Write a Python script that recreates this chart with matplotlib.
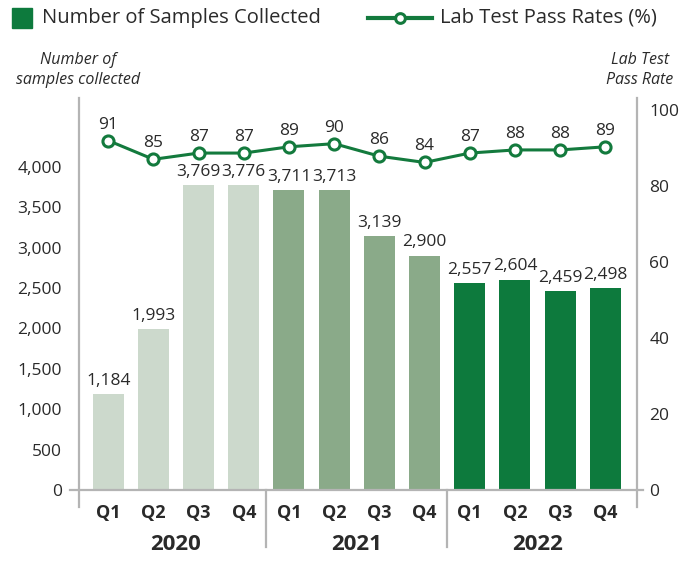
import matplotlib
matplotlib.use('Agg')
import matplotlib.pyplot as plt
import numpy as np
from matplotlib.patches import Rectangle
from matplotlib.lines import Line2D

# data
years = ['2020', '2021', '2022']
quarters = ['Q1', 'Q2', 'Q3', 'Q4']
samples = [1184, 1993, 3769, 3776, 3711, 3713, 3139, 2900, 2557, 2604, 2459, 2498]
pass_rates = [91, 85, 87, 87, 89, 90, 86, 84, 87, 88, 88, 89]
left_ticks = [0, 500, 1000, 1500, 2000, 2500, 3000, 3500, 4000]
right_ticks = [0, 20, 40, 60, 80, 100]

year_colors = ['#ccd9cc', '#8aaa89', '#0d7a3d']
line_color = '#137a3d'
grey = '#b4b4b4'
text_color = '#2a2a2a'

plt.rcParams['font.family'] = ['Open Sans', 'DejaVu Sans']
plt.rcParams['text.color'] = text_color

W, H = 697, 561
fig = plt.figure(figsize=(W / 100, H / 100), dpi=100)

# axes box in pixels: left 78.6, right 637, top 98, bottom 490
ax = fig.add_axes([78.6 / W, (H - 490) / H, (637 - 78.6) / W, (490 - 98) / H])
ax2 = ax.twinx()   # visible right scale
ax3 = ax.twinx()   # line layer

x = np.arange(len(samples))
colors = [year_colors[i // 4] for i in range(len(samples))]

ax.bar(x, samples, width=0.686, color=colors, zorder=2)
ax.set_xlim(-0.655, 11.70)
ax.set_ylim(0, 4850)
ax.set_yticks(left_ticks)
ax.set_yticklabels([f'{t:,}' for t in left_ticks], fontsize=12.5, color=text_color)
ax.tick_params(axis='y', length=0, pad=12)
ax.set_xticks([])

for xi, v in zip(x, samples):
    ax.annotate(f'{v:,}', (xi, v), xytext=(0, 9.5), textcoords='offset points',
                ha='center', va='center', fontsize=12.5, color=text_color)

ax2.set_ylim(0, 103.2)
ax2.set_yticks(right_ticks)
ax2.set_yticklabels([str(t) for t in right_ticks], fontsize=12.5, color=text_color)
ax2.tick_params(axis='y', length=0, pad=9)

ax3.set_ylim(-20.7, 104.6)
ax3.plot(x, pass_rates, color=line_color, lw=2.2, marker='o', markersize=8,
         markerfacecolor='white', markeredgecolor=line_color, markeredgewidth=2.2,
         zorder=3)
ax3.set_yticks([])
for xi, v in zip(x, pass_rates):
    ax3.annotate(str(v), (xi, v), xytext=(0, 11.5), textcoords='offset points',
                 ha='center', va='center', fontsize=12.5, color=text_color)

for a in (ax, ax2, ax3):
    for s in a.spines.values():
        s.set_visible(False)

# frame lines
tr = ax.get_xaxis_transform()
x0, x1 = ax.get_xlim()
ax.plot([x0 - 0.19, x1 + 0.13], [0, 0], transform=tr, color=grey, lw=1.6, clip_on=False, zorder=4)
ax.plot([x0, x0], [-0.043, 1], transform=tr, color=grey, lw=1.6, clip_on=False)
ax.plot([x1, x1], [-0.043, 1], transform=tr, color=grey, lw=1.6, clip_on=False)
for sep in [3.5, 7.5]:
    ax.plot([sep, sep], [-0.145, 0], transform=tr, color=grey, lw=1.6, clip_on=False)

# quarter and year labels
for xi in x:
    ax.annotate(quarters[xi % 4], (xi, 0), xycoords=tr, xytext=(0, -16.6),
                textcoords='offset points', ha='center', va='center',
                fontsize=13, fontweight='bold', color=text_color)
for i, yr in enumerate(years):
    ax.annotate(yr, (i * 4 + 1.5, 0), xycoords=tr, xytext=(0, -39.6),
                textcoords='offset points', ha='center', va='center',
                fontsize=16, fontweight='bold', color=text_color)

# axis titles
fig.text(78 / W, 1 - 70 / H, 'Number of\nsamples collected', ha='center', va='center',
         fontsize=11.5, style='italic', linespacing=1.25, color=text_color)
fig.text(640 / W, 1 - 70 / H, 'Lab Test\nPass Rate', ha='center', va='center',
         fontsize=11.5, style='italic', linespacing=1.25, color=text_color)

# legend
fig.patches.append(Rectangle((12 / W, 1 - 28 / H), 20 / W, 20 / H,
                             transform=fig.transFigure, color=year_colors[2]))
fig.text(42 / W, 1 - 18 / H, 'Number of Samples Collected', ha='left', va='center',
         fontsize=14.5, color=text_color)
fig.lines.append(Line2D([368 / W, 432 / W], [1 - 18 / H] * 2, transform=fig.transFigure,
                        color=line_color, lw=3))
fig.lines.append(Line2D([400 / W], [1 - 18 / H], transform=fig.transFigure,
                        marker='o', markersize=7, markerfacecolor='white',
                        markeredgecolor=line_color, markeredgewidth=2.2))
fig.text(440 / W, 1 - 18 / H, 'Lab Test Pass Rates (%)', ha='left', va='center',
         fontsize=14.5, color=text_color)

fig.savefig('out.png', dpi=100)
